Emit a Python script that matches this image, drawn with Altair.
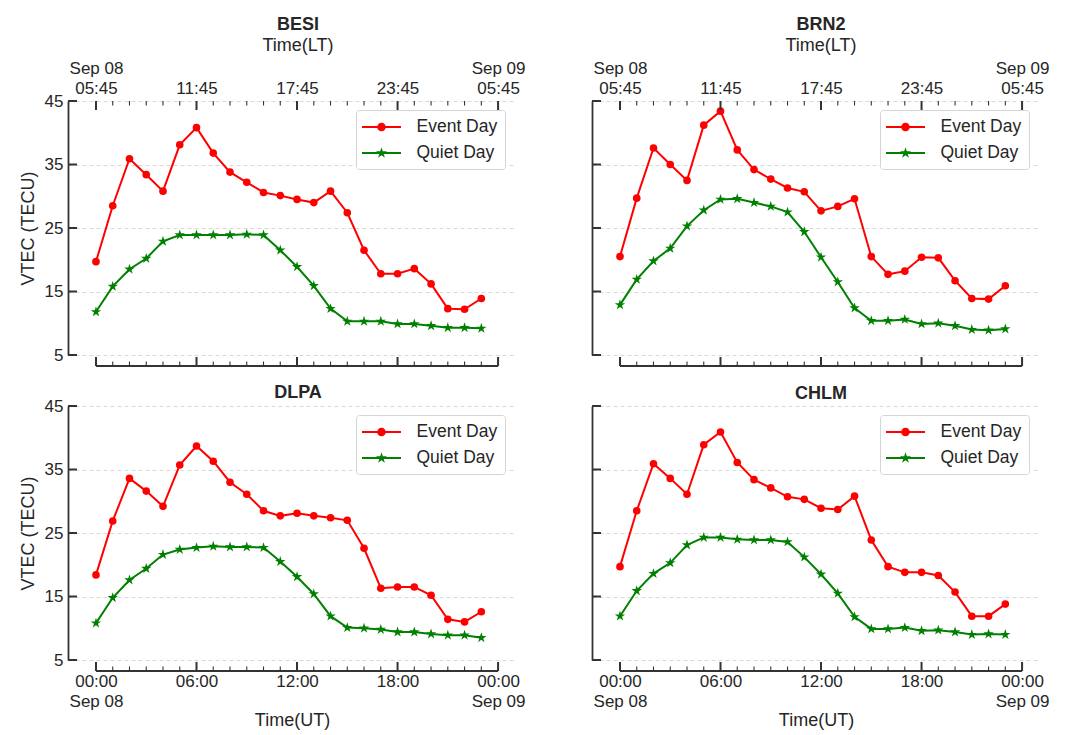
import json
import math
import altair as alt
import pandas as pd

# ---------------- data ----------------
hours = list(range(24))
stations = ["BESI", "BRN2", "DLPA", "CHLM"]
series_names = ["Event Day", "Quiet Day"]
series_colors = ["#ff0000", "#008000"]

besi_event = [19.7, 28.5, 35.9, 33.4, 30.8, 38.1, 40.8, 36.8, 33.8, 32.2, 30.6, 30.1,
              29.5, 29.0, 30.8, 27.4, 21.5, 17.8, 17.8, 18.6, 16.2, 12.3, 12.2, 13.9]
besi_quiet = [11.8, 15.8, 18.5, 20.2, 22.9, 23.9, 23.9, 23.9, 23.9, 24.0, 23.9, 21.5,
              18.9, 15.9, 12.3, 10.3, 10.3, 10.3, 9.9, 9.9, 9.6, 9.3, 9.3, 9.2]
brn2_event = [20.5, 29.7, 37.6, 35.0, 32.5, 41.2, 43.4, 37.3, 34.2, 32.7, 31.3, 30.7,
              27.7, 28.4, 29.6, 20.5, 17.7, 18.2, 20.4, 20.3, 16.7, 13.9, 13.8, 15.9]
brn2_quiet = [12.9, 16.9, 19.8, 21.8, 25.3, 27.8, 29.5, 29.6, 29.0, 28.4, 27.5, 24.4,
              20.4, 16.5, 12.4, 10.4, 10.4, 10.6, 9.9, 10.0, 9.6, 9.0, 8.9, 9.1]
dlpa_event = [18.4, 26.9, 33.6, 31.6, 29.2, 35.7, 38.7, 36.3, 33.0, 31.1, 28.5, 27.7,
              28.1, 27.7, 27.4, 27.0, 22.6, 16.3, 16.5, 16.5, 15.2, 11.4, 11.0, 12.6]
dlpa_quiet = [10.8, 14.8, 17.6, 19.4, 21.6, 22.4, 22.7, 22.9, 22.8, 22.8, 22.7, 20.5,
              18.1, 15.4, 11.9, 10.1, 10.0, 9.8, 9.4, 9.4, 9.1, 8.9, 8.9, 8.5]
chlm_event = [19.7, 28.5, 35.9, 33.6, 31.1, 38.9, 40.9, 36.1, 33.4, 32.1, 30.7, 30.3,
              28.9, 28.7, 30.8, 23.9, 19.7, 18.8, 18.8, 18.3, 15.7, 11.9, 11.9, 13.8]
chlm_quiet = [11.9, 15.9, 18.6, 20.3, 23.1, 24.3, 24.3, 24.0, 23.9, 23.9, 23.6, 21.2,
              18.5, 15.5, 11.8, 9.9, 9.9, 10.1, 9.6, 9.7, 9.4, 9.0, 9.1, 9.0]

tick_hours = list(range(25))
major_hours = [0, 6, 12, 18, 24]
ut_labels = [["00:00", "Sep 08"], "06:00", "12:00", "18:00", ["00:00", "Sep 09"]]
lt_labels = [["Sep 08", "05:45"], ["", "11:45"], ["", "17:45"], ["", "23:45"], ["Sep 09", "05:45"]]
y_ticks = [5, 15, 25, 35, 45]

# ---------------- style ----------------
W, H = 448, 254
X_DOM = [-1.67, 25.07]
Y_DOM = [5, 45]
FONT = "Liberation Sans"
TXT = "#262626"
SPINE = "#333333"
BOTTOM_OFF = 11


def star_coords(R, ratio=0.382):
    pts = []
    for k in range(10):
        ang = math.radians(-90 + 36 * k)
        r = R if k % 2 == 0 else R * ratio
        pts.append((r * math.cos(ang), r * math.sin(ang)))
    return pts


def star_path(R):
    pts = star_coords(R)
    return "M" + "L".join(f"{x:.3f},{y:.3f}" for x, y in pts) + "Z"


def circle_path(r):
    return f"M{r},0A{r},{r},0,1,1,{-r},0A{r},{r},0,1,1,{r},0Z"


LINE_SEG = "M-1.95,-0.09H1.95V0.09H-1.95Z"
STAR = star_path(1.0)
LEG_SHAPES = [LINE_SEG + circle_path(0.43), LINE_SEG + star_path(0.58)]


def label_expr(values, labels):
    s = ""
    for v, l in zip(values, labels):
        s += f"datum.value == {v} ? {json.dumps(l)} : "
    return s + "''"


def panel(name, event, quiet, top_row, left_col):
    xs = alt.Scale(domain=X_DOM, nice=False, zero=False)
    ys = alt.Scale(domain=Y_DOM, nice=False, zero=False)
    ev = pd.DataFrame({"hour": hours, "vtec": event})
    qu = pd.DataFrame({"hour": hours, "vtec": quiet})
    mj = pd.DataFrame({"hour": major_hours})
    mn = pd.DataFrame({"hour": [h for h in tick_hours if h not in major_hours]})
    sp = pd.DataFrame({"h0": [major_hours[0]], "h1": [major_hours[-1]]})
    yt = pd.DataFrame({"v": y_ticks})

    if left_col:
        yaxis = alt.Axis(values=y_ticks, ticks=False, labels=True, labelPadding=5,
                         labelFontSize=17, labelColor=TXT, format="d",
                         title="VTEC (TECU)", titleFontSize=18, titleFontWeight="normal",
                         titleColor=TXT, titlePadding=7,
                         domainColor=SPINE, domainWidth=1.8,
                         grid=True, gridDash=[4, 3], gridColor="#cfcfcf", gridWidth=0.8)
    else:
        yaxis = alt.Axis(values=y_ticks, ticks=False, labels=False, title="",
                         domainColor=SPINE, domainWidth=1.8,
                         grid=True, gridDash=[4, 3], gridColor="#cfcfcf", gridWidth=0.8)

    if top_row:
        xaxis = None
    else:
        xaxis = alt.Axis(values=major_hours, orient="bottom", offset=BOTTOM_OFF,
                         ticks=False, domain=False, grid=False,
                         labelExpr=label_expr(major_hours, ut_labels),
                         labelFontSize=17, labelColor=TXT, labelPadding=2,
                         labelLineHeight=20, labelAngle=0,
                         title="Time(UT)", titleFontSize=18, titleFontWeight="normal",
                         titleColor=TXT, titlePadding=2)

    ysimple = alt.Y("vtec:Q", scale=ys)
    line_ev = alt.Chart(ev).mark_line(color=series_colors[0], strokeWidth=2).encode(
        x=alt.X("hour:Q", scale=xs, axis=xaxis),
        y=alt.Y("vtec:Q", scale=ys, axis=yaxis))
    line_qu = alt.Chart(qu).mark_line(color=series_colors[1], strokeWidth=2).encode(
        x=alt.X("hour:Q", scale=xs, axis=None), y=ysimple)
    pt_ev = alt.Chart(ev).mark_point(shape="circle", filled=True, size=58, opacity=1,
                                     color=series_colors[0]).encode(
        x=alt.X("hour:Q", scale=xs, axis=None), y=ysimple)
    pt_qu = alt.Chart(qu).mark_point(shape=STAR, filled=True, size=120, opacity=1,
                                     color=series_colors[1]).encode(
        x=alt.X("hour:Q", scale=xs, axis=None), y=ysimple)

    ybot = H + BOTTOM_OFF
    spine = alt.Chart(sp).mark_rule(color=SPINE, strokeWidth=1.8).encode(
        x=alt.X("h0:Q", scale=xs, axis=None), x2="h1:Q", y=alt.value(ybot))
    bmaj = alt.Chart(mj).mark_rule(color=SPINE, strokeWidth=2).encode(
        x=alt.X("hour:Q", scale=xs, axis=None), y=alt.value(ybot), y2=alt.value(ybot - 9))
    bmin = alt.Chart(mn).mark_rule(color=SPINE, strokeWidth=1.1).encode(
        x=alt.X("hour:Q", scale=xs, axis=None), y=alt.value(ybot), y2=alt.value(ybot - 4.5))
    yrules = alt.Chart(yt).mark_rule(color=SPINE, strokeWidth=2).encode(
        y=alt.Y("v:Q", scale=ys), x=alt.value(0), x2=alt.value(9))

    leg_df = pd.DataFrame({"series": series_names})
    legend = alt.Chart(leg_df).mark_point(filled=True, opacity=1).encode(
        color=alt.Color("series:N",
                        scale=alt.Scale(domain=series_names, range=series_colors),
                        legend=alt.Legend(title=None, orient="none", legendX=288, legendY=9,
                                          direction="vertical",
                                          labelFont=FONT, labelFontSize=17.5, labelColor=TXT,
                                          symbolSize=400, symbolOffset=8.5, labelOffset=25,
                                          symbolStrokeWidth=0, symbolOpacity=1,
                                          padding=7, rowPadding=7,
                                          strokeColor="#d5d5d5", fillColor="white",
                                          cornerRadius=3)),
        shape=alt.Shape("series:N",
                        scale=alt.Scale(domain=series_names, range=LEG_SHAPES)),
    ).transform_filter("false")

    layers = [line_ev, line_qu, pt_ev, pt_qu, spine, bmaj, bmin, yrules]
    dx = 6 if left_col else 5

    if top_row:
        tmaj = alt.Chart(mj).mark_rule(color=SPINE, strokeWidth=2).encode(
            x=alt.X("hour:Q", scale=xs,
                    axis=alt.Axis(values=major_hours, orient="top", ticks=False, domain=False,
                                  grid=False, labelExpr=label_expr(major_hours, lt_labels),
                                  labelFontSize=17, labelColor=TXT, labelPadding=24,
                                  labelLineHeight=20, labelAngle=0, title="")),
            y=alt.value(0), y2=alt.value(9))
        tmin = alt.Chart(mn).mark_rule(color=SPINE, strokeWidth=1.1).encode(
            x=alt.X("hour:Q", scale=xs, axis=None), y=alt.value(0), y2=alt.value(4.5))
        layers += [tmaj, tmin]
        title = alt.TitleParams(text=name, subtitle="Time(LT)", fontSize=18, fontWeight="bold",
                                color=TXT, subtitleFontSize=18, subtitleFontWeight="normal",
                                subtitleColor=TXT, subtitlePadding=3, anchor="middle",
                                frame="group", dx=dx, offset=4, font=FONT, subtitleFont=FONT)
    else:
        title = alt.TitleParams(text=name, fontSize=18, fontWeight="bold", color=TXT,
                                anchor="middle", frame="group", dx=dx,
                                offset=(-5 if left_col else 2), font=FONT)

    layers.append(legend)
    return alt.layer(*layers).resolve_axis(x="independent").properties(
        width=W, height=H, title=title)


data_map = {"BESI": (besi_event, besi_quiet), "BRN2": (brn2_event, brn2_quiet),
            "DLPA": (dlpa_event, dlpa_quiet), "CHLM": (chlm_event, chlm_quiet)}

p1 = panel("BESI", *data_map["BESI"], True, True)
p2 = panel("BRN2", *data_map["BRN2"], True, False)
p3 = panel("DLPA", *data_map["DLPA"], False, True)
p4 = panel("CHLM", *data_map["CHLM"], False, False)

top = alt.hconcat(p1, p2, spacing=65).resolve_legend("independent").resolve_scale(
    color="independent", shape="independent")
bot = alt.hconcat(p3, p4, spacing=65).resolve_legend("independent").resolve_scale(
    color="independent", shape="independent")

chart = alt.vconcat(top, bot, spacing=17).resolve_legend("independent").resolve_scale(
    color="independent", shape="independent").properties(
    padding={"left": 11, "top": 8, "right": 5, "bottom": 5}
).configure(font=FONT).configure_view(stroke=None)

chart.save("out.html", embed_options={"renderer": "svg", "actions": False})
